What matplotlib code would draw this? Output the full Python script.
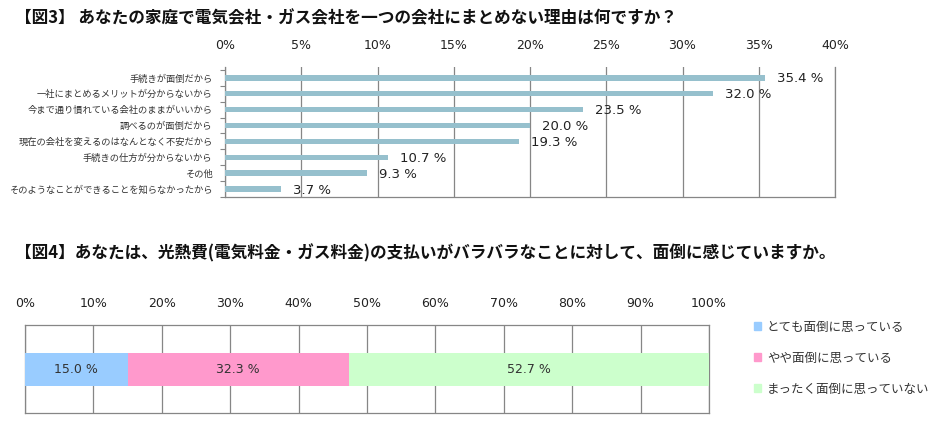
import matplotlib
matplotlib.use("Agg")
import matplotlib.pyplot as plt
import matplotlib.patches as mpatches
import numpy as np

JP = ["Noto Sans CJK JP", "DejaVu Sans"]
NUM = ["DejaVu Sans", "Noto Sans CJK JP"]

# --- figure 3 data ---
TITLE3 = "【図3】 あなたの家庭で電気会社・ガス会社を一つの会社にまとめない理由は何ですか？"
REASONS = [
    "手続きが面倒だから",
    "一社にまとめるメリットが分からないから",
    "今まで通り慣れている会社のままがいいから",
    "調べるのが面倒だから",
    "現在の会社を変えるのはなんとなく不安だから",
    "手続きの仕方が分からないから",
    "その他",
    "そのようなことができることを知らなかったから",
]
REASON_PCT = [35.4, 32.0, 23.5, 20.0, 19.3, 10.7, 9.3, 3.7]
TICKS3 = [0, 5, 10, 15, 20, 25, 30, 35, 40]

# --- figure 4 data ---
TITLE4 = "【図4】あなたは、光熱費(電気料金・ガス料金)の支払いがバラバラなことに対して、面倒に感じていますか。"
ANSWERS = ["とても面倒に思っている", "やや面倒に思っている", "まったく面倒に思っていない"]
ANSWER_PCT = [15.0, 32.3, 52.7]
ANSWER_COLORS = ["#99ccff", "#ff99cc", "#ccffcc"]
TICKS4 = list(range(0, 101, 10))

GRID = "#868686"
BAR3 = "#96c0cd"

fig = plt.figure(figsize=(9.53, 4.44), dpi=100)

# ================= chart 3 =================
fig.text(0.016, 0.958, TITLE3, family=JP, weight="bold", fontsize=12,
         va="center", ha="left", color="#111111")

ax = fig.add_axes([0.2361, 0.5563, 0.6401, 0.2928])
y = np.arange(len(REASONS))
ax.barh(y, REASON_PCT, height=0.34, color=BAR3, zorder=3)
ax.set_xlim(0, 40)
ax.set_ylim(7.37, -0.68)
ax.set_xticks(TICKS3)
ax.set_xticklabels([f"{t}%" for t in TICKS3], family=NUM, fontsize=9, color="#222222")
ax.xaxis.tick_top()
ax.tick_params(axis="x", length=0, pad=11)
ax.grid(axis="x", color=GRID, lw=0.9, zorder=1)
ax.set_yticks(y)
ax.set_yticklabels(REASONS, family=JP, fontsize=6.7, color="#333333")
ax.tick_params(axis="y", length=0, pad=9)
ax.set_yticks(np.arange(-0.5, len(REASONS), 1.0), minor=True)
ax.tick_params(axis="y", which="minor", length=3.5, color=GRID, width=0.8)
ax.spines["top"].set_visible(False)
for s in ("left", "bottom", "right"):
    ax.spines[s].set_color(GRID)
    ax.spines[s].set_linewidth(0.9)
for yi, v in zip(y, REASON_PCT):
    ax.annotate(f"{v:.1f} %", (v, yi), textcoords="offset pixels", xytext=(12, -1),
                ha="left", va="center", fontsize=9.5, family=NUM, color="#222222", zorder=4)

# ================= chart 4 =================
fig.text(0.016, 0.43, TITLE4, family=JP, weight="bold", fontsize=12,
         va="center", ha="left", color="#111111")

ax2 = fig.add_axes([0.02623, 0.0698, 0.7177, 0.1982])
left = 0
for lab, v, c in zip(ANSWERS, ANSWER_PCT, ANSWER_COLORS):
    ax2.barh(0, v, left=left, height=0.375, color=c, zorder=3, label=lab)
    ax2.text(left + v / 2, 0, f"{v:.1f} %", ha="center", va="center",
             fontsize=9, family=NUM, color="#333333", zorder=4)
    left += v
ax2.set_xlim(0, 100)
ax2.set_ylim(-0.5, 0.5)
ax2.set_xticks(TICKS4)
ax2.set_xticklabels([f"{t}%" for t in TICKS4], family=NUM, fontsize=9, color="#222222")
ax2.xaxis.tick_top()
ax2.tick_params(axis="x", length=0, pad=11)
ax2.set_yticks([])
ax2.grid(axis="x", color=GRID, lw=0.9, zorder=1)
for s in ax2.spines.values():
    s.set_color(GRID)
    s.set_linewidth(0.9)

handles = [mpatches.Patch(color=c, label=l) for l, c in zip(ANSWERS, ANSWER_COLORS)]
fig.legend(handles=handles, loc="upper left", bbox_to_anchor=(0.791, 0.278),
           frameon=False, handlelength=0.6, handleheight=0.6, handletextpad=0.45,
           labelspacing=1.45, borderpad=0, borderaxespad=0,
           prop={"family": JP, "size": 9}, labelcolor="#333333")

fig.savefig("out.png", dpi=100)
